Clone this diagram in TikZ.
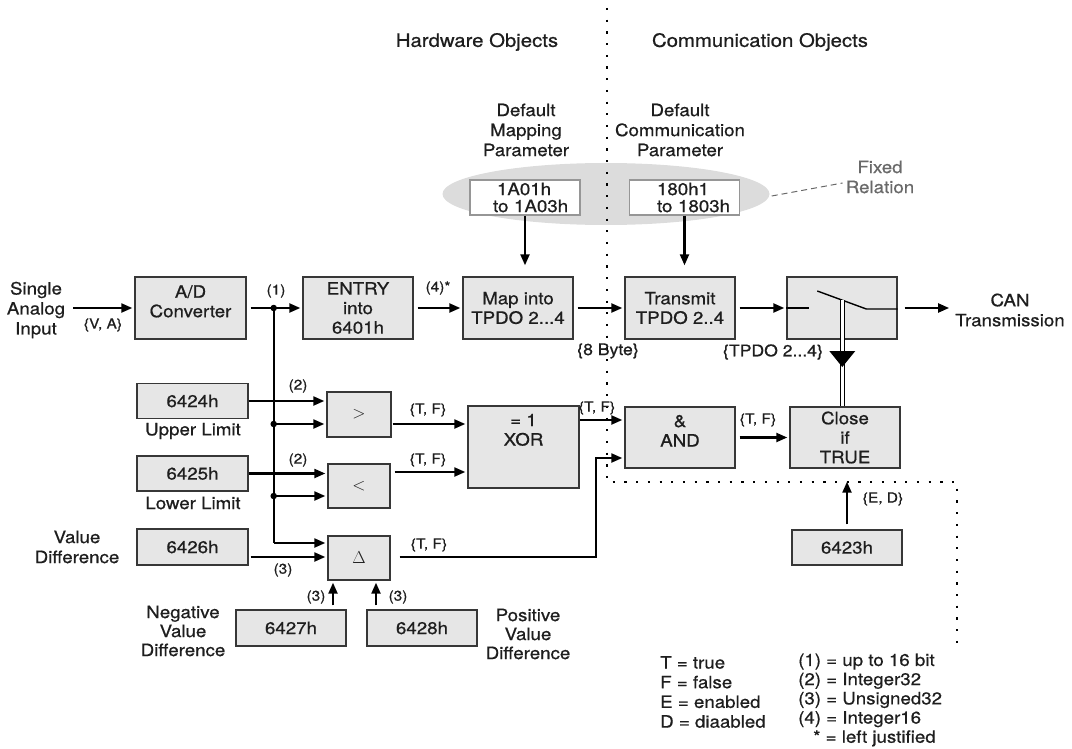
\documentclass[tikz,border=0pt]{standalone}
\usepackage{fontspec}
\setmainfont{TeX Gyre Heros}[FakeStretch=1.1,FakeBold=0.7]
\usetikzlibrary{arrows.meta,shapes.geometric,calc}
\definecolor{boxfill}{RGB}{230,230,230}
\definecolor{boxline}{RGB}{55,55,55}
\definecolor{ellfill}{RGB}{220,220,220}
\definecolor{wline}{RGB}{150,150,150}
\definecolor{frgray}{RGB}{105,105,105}
\definecolor{txt}{RGB}{30,30,30}
\newcommand{\fz}[2]{\fontsize{#1}{#2}\selectfont}
\begin{document}
\begin{tikzpicture}[x=1pt,y=-1pt,text=txt,
  blk/.style={draw=boxline,fill=boxfill,line width=1.4pt,inner sep=0pt,align=center,font=\fz{17}{19.5}},
  wbox/.style={draw=wline,fill=white,line width=1.2pt,inner sep=0pt,align=left,font=\fz{17}{17},minimum width=110pt,minimum height=35pt,text width=94pt},
  lbl/.style={inner sep=0pt,align=center,font=\fz{17}{20}},
  hdr/.style={inner sep=0pt,font=\fz{18.5}{20}},
  sml/.style={inner sep=0pt,font=\fz{14}{16}},
  med/.style={inner sep=0pt,font=\fz{16}{18}},
  arr/.style={-{Triangle[length=11pt,width=9pt]},line width=2.2pt,shorten <=4pt,shorten >=2pt},
  ln/.style={line width=2.2pt},
  dots/.style={line width=2.2pt,dash pattern=on 2.2pt off 9.5pt},
  jdot/.style={circle,fill=black,inner sep=0pt,minimum size=6.5pt},
  dbl/.style={draw=black,double=white,line width=1.3pt,double distance=2.6pt}
]
\useasboundingbox (0,0) rectangle (1072,749);

% background ellipse and region divider
\node[ellipse,fill=ellfill,minimum width=327pt,minimum height=62pt,inner sep=0pt] (ell) at (606,194) {};
\draw[dots] (607,8) -- (607,482) -- (957,482) -- (957,650);

% headers
\node[hdr] (hw) at (477,42) {Hardware Objects};
\node[hdr] (co) at (760,42) {Communication Objects};
\node[lbl] (dmp) at (526,130) {Default\\Mapping\\Parameter};
\node[lbl] (dcp) at (680,130) {Default\\Communication\\Parameter};
\node[lbl,text=frgray] (fr) at (880,177) {Fixed\\Relation};
\draw[frgray,line width=1pt,dash pattern=on 6pt off 4pt] ($(ell.east)+(2,2)$) -- ($(fr.west)+(-3,6)$);

% parameter boxes
\node[wbox] (p1) at (525,197.5) {\hspace*{19pt}1A01h\\\hspace*{15pt}to 1A03h};
\node[wbox] (p2) at (684.5,197.5) {\hspace*{19.5pt}180h1\\\hspace*{19.5pt}to 1803h};

% main row
\node[lbl] (sai) at (36,310) {Single\\Analog\\Input};
\node[blk,minimum width=111pt,minimum height=62pt] (ad) at (190.5,308) {A/D\\Converter\\[-6pt]\mbox{}};
\node[blk,minimum width=110pt,minimum height=62pt] (entry) at (358,308) {ENTRY\\into\\6401h};
\node[blk,minimum width=110pt,minimum height=62pt] (map) at (518,308) {Map into\\TPDO 2...4};
\node[blk,minimum width=110pt,minimum height=62pt] (trans) at (680,308) {Transmit\\TPDO 2..4};
\node[blk,minimum width=110pt,minimum height=62pt] (sw) at (842,308) {};
\node[lbl] (can) at (1010,310) {CAN\\Transmission};

% second block rows
\node[blk,minimum width=111pt,minimum height=35pt] (b6424) at (192.5,401) {6424h};
\node[lbl] (ul) at (193,431) {Upper Limit};
\node[blk,minimum width=111pt,minimum height=35pt] (b6425) at (192.5,473.5) {6425h};
\node[lbl] (ll) at (193,503) {Lower Limit};
\node[blk,minimum width=111pt,minimum height=36pt] (b6426) at (192.5,547) {6426h};
\node[lbl] (vd) at (77,547) {Value\\Difference};
\node[blk,minimum width=64pt,minimum height=45pt] (gt) at (359,414.5) {$>$};
\node[blk,minimum width=62pt,minimum height=44pt] (lt) at (359,486) {$<$};
\node[blk,minimum width=62pt,minimum height=44pt] (delta) at (359,558) {$\Delta$};
\node[blk,minimum width=111pt,minimum height=82pt] (xor) at (523.5,447) {= 1\\XOR\\[15pt]\mbox{}};
\node[blk,minimum width=110pt,minimum height=61pt] (and) at (680,437.5) {\&\\AND\\[-6pt]\mbox{}};
\node[blk,minimum width=110pt,minimum height=61pt] (close) at (845,437.5) {Close\\if\\TRUE};
\node[blk,minimum width=110pt,minimum height=35pt] (b6423) at (847,547.5) {6423h};
\node[blk,minimum width=110pt,minimum height=36pt] (b6427) at (291,628) {6427h};
\node[blk,minimum width=110pt,minimum height=36pt] (b6428) at (422,628) {6428h};
\node[lbl,font=\fz{17}{19}] (nvd) at (183,631) {Negative\\Value\\Difference};
\node[lbl,font=\fz{17}{19}] (pvd) at (528,634) {Positive\\Value\\Difference};

% switch symbol
\draw[line width=1.4pt] (sw.west) -- ++(23,0);
\draw[line width=1.4pt] ($(sw.west)+(31,-17)$) -- ($(sw.west)+(80,1)$) -- ($(sw.east)+(0,1)$);
\coordinate (sd) at ($(sw.west)+(56,-8)$);
\draw[dbl] (sd) -- (sd |- close.north);
\fill ($(sd)+(-13,51)$) -- ($(sd)+(13,51)$) -- ($(sd)+(0,67)$) -- cycle;

% main row connectors
\draw[arr,shorten <=8pt] (sai.east |- ad.west) -- (ad.west);
\draw[arr] (ad.east) -- (entry.west);
\draw[arr] (entry.east) -- (map.west);
\draw[arr] (map.east) -- (trans.west);
\draw[arr] (trans.east) -- (sw.west);
\draw[arr,shorten <=7pt,shorten >=6pt] (sw.east) -- (sw.east -| can.west);
\draw[arr,shorten <=0pt,shorten >=11pt] (p1.south) -- (p1.south |- map.north);
\draw[arr,shorten <=0pt,shorten >=11pt] (p2.south) -- (p2.south |- trans.north);

% bus
\coordinate (j0) at ($(ad.east)+(27,0)$);
\coordinate (gin) at ($(gt.west)+(0,9.5)$);
\coordinate (j1) at (j0 |- gin);
\coordinate (lin) at ($(lt.west)+(0,10)$);
\coordinate (j2) at (j0 |- lin);
\coordinate (din) at ($(delta.west)+(0,-15)$);
\coordinate (j3) at (j0 |- din);
\draw[ln] (j0) -- (j3);
\draw[arr,shorten <=0pt] (j3) -- (din);
\draw[arr,shorten <=0pt] (j1) -- (gin);
\draw[arr,shorten <=0pt] (j2) -- (lin);
\node[jdot] (jd0) at (j0) {};
\node[jdot] (jd1) at (j1) {};
\node[jdot] (jd2) at (j2) {};
\draw[arr,shorten <=0pt] (b6424.east) -- (b6424.east -| gt.west);
\draw[arr,shorten <=0pt] (b6425.east) -- (b6425.east -| lt.west);
\coordinate (d6) at ($(b6426.east)+(0,10)$);
\draw[arr,shorten <=2pt] (d6) -- (d6 -| delta.west);

% logic connectors
\coordinate (go) at ($(gt.east)+(0,9.5)$);
\draw[arr,shorten <=1pt] (go) -- (go -| xor.west);
\coordinate (lo) at ($(lt.east)+(0,-14)$);
\draw[arr] (lo) -- (lo -| xor.west);
\coordinate (xo) at ($(and.west)+(0,-17.5)$);
\draw[arr,shorten <=0pt] (xo -| xor.east) -- (xo);
\coordinate (ai) at ($(and.west)+(0,20.5)$);
\coordinate (do) at ($(delta.east)+(9,-1)$);
\draw[arr,shorten <=0pt] (do) -| ($(ai)+(-28,0)$) -- (ai);
\draw[arr] (and.east) -- (close.west);
\draw[arr,shorten <=5pt,shorten >=13pt] (b6423.north) -- (b6423.north |- close.south);
\coordinate (n7) at ($(b6427.north)+(42,0)$);
\draw[arr] (n7) -- (n7 |- delta.south);
\coordinate (n8) at ($(b6428.north)+(-46,0)$);
\draw[arr] (n8) -- (n8 |- delta.south);

% connector labels
\node[sml] (l1) at (276,291) {(1)};
\node[sml] (l4) at (438,288) {(4)*};
\node[sml] (lva) at (103,325) {\{V, A\}};
\node[med] (l8b) at (608,351) {\{8 Byte\}};
\node[med] (ltp) at (773,352) {\{TPDO 2...4\}};
\node[sml] (l2a) at (298,386) {(2)};
\node[sml] (l2b) at (298,460) {(2)};
\node[sml] (l3a) at (283,570) {(3)};
\node[sml] (tf1) at (428,410) {\{T, F\}};
\node[sml] (tf2) at (428,460) {\{T, F\}};
\node[sml] (tf3) at (429,545) {\{T, F\}};
\node[sml] (tf4) at (597,408) {\{T, F\}};
\node[sml] (tf5) at (758,420) {\{T, F\}};
\node[sml] (led) at (883,499) {\{E, D\}};
\node[sml] (l3b) at (316,597) {(3)};
\node[sml] (l3c) at (398,597) {(3)};

% legend
\node[inner sep=0pt,anchor=west,align=left,font=\fz{17}{19.7}] (leg1) at (660,692) {T = true\\F = false\\E = enabled\\D = diaabled};
\node[inner sep=0pt,anchor=west,align=left,font=\fz{17}{19.2}] (leg2) at (798,700) {(1) = up to 16 bit\\(2) = Integer32\\(3) = Unsigned32\\(4) = Integer16\\\hspace*{15pt}* = left justified};
\end{tikzpicture}
\end{document}
